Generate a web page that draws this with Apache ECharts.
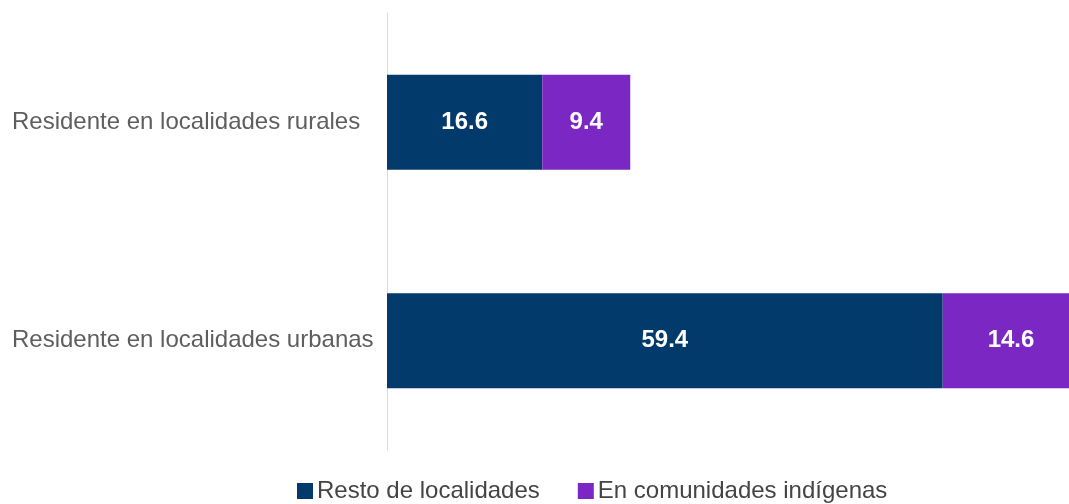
<!DOCTYPE html>
<html>
<head>
<meta charset="utf-8">
<script src="https://cdn.jsdelivr.net/npm/echarts@6/dist/echarts.min.js"></script>
<style>
  html, body { margin: 0; padding: 0; background: #fff; }
  #chart { width: 1069px; height: 504px; }
</style>
</head>
<body>
<div id="chart"></div>
<script>
// categorias (de arriba a abajo)
const categories = ['Residente en localidades rurales', 'Residente en localidades urbanas']
const seriesNames = ['Resto de localidades', 'En comunidades indígenas']
const restoValues = [16.6, 59.4]
const indigenasValues = [9.4, 14.6]
const colors = ['#023a6b', '#7b27c4']

const myChart = echarts.init(document.getElementById('chart'))

const barLabel = {
  show: true,
  position: 'inside',
  color: '#fff',
  fontFamily: 'Liberation Sans, Arial, sans-serif',
  fontWeight: 'bold',
  fontSize: 24,
  formatter: p => p.value.toFixed(1)
}

const option = {
  backgroundColor: '#fff',
  animation: false,
  color: colors,
  grid: {
    left: 387,
    right: 0,
    top: 13,
    bottom: 54,
    containLabel: false
  },
  legend: {
    left: 297,
    top: 479,
    padding: 0,
    itemWidth: 16,
    itemHeight: 16,
    itemGap: 38,
    icon: 'rect',
    textStyle: {
      color: '#444',
      fontSize: 24,
      padding: [0, 0, 0, -1],
      fontFamily: 'Liberation Sans, Arial, sans-serif'
    },
    data: seriesNames
  },
  xAxis: {
    type: 'value',
    min: 0,
    max: 72.9, // la barra urbana se sale del lienzo en el original
    show: false,
    splitLine: { show: false }
  },
  yAxis: {
    type: 'category',
    inverse: true,
    data: categories,
    axisTick: { show: false },
    axisLine: { show: true, lineStyle: { color: '#dcdcdc', width: 1 } },
    axisLabel: {
      align: 'left',
      margin: 375,
      color: '#5e5e5e',
      fontSize: 24,
      fontFamily: 'Liberation Sans, Arial, sans-serif'
    }
  },
  series: [
    {
      name: seriesNames[0],
      type: 'bar',
      stack: 'total',
      barWidth: 95,
      clip: false,
      data: restoValues,
      label: barLabel
    },
    {
      name: seriesNames[1],
      type: 'bar',
      stack: 'total',
      barWidth: 95,
      clip: false,
      data: indigenasValues,
      label: barLabel
    }
  ]
}

myChart.setOption(option)
</script>
</body>
</html>
